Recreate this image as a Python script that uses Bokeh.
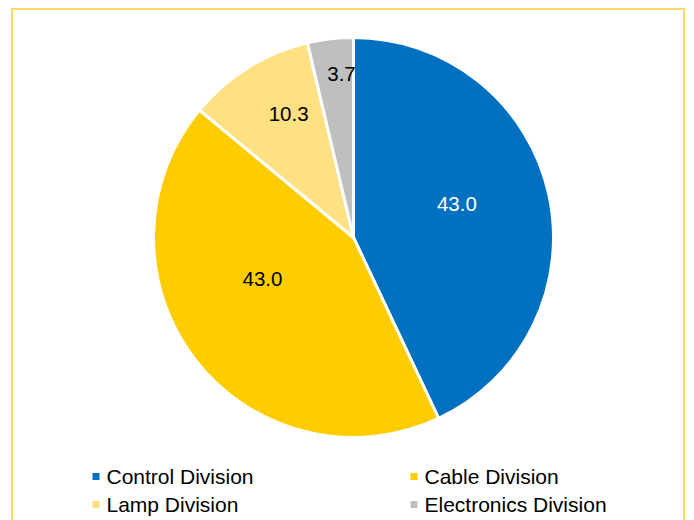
import math
from bokeh.plotting import figure
from bokeh.models import Range1d, ColumnDataSource
from bokeh.core.properties import value
from bokeh.embed import file_html
from bokeh.resources import INLINE

# ---- data ----
categories = ["Control Division", "Cable Division", "Lamp Division", "Electronics Division"]
shares = [43.0, 43.0, 10.3, 3.7]
colors = ["#0070C0", "#FFCC00", "#FFE083", "#BFBFBF"]
label_colors = ["white", "black", "black", "black"]

# ---- layout (pixel coordinates, y measured downward -> data y = -page_y) ----
W, H = 694, 520
cx, cy, R = 353, 237, 200
label_rfrac = [0.54, 0.50, 0.70, 0.82]
label_dx = [-2, -12, 9, 7]
label_dy = [-10, -20, -5, -1]

p = figure(width=W, height=H, output_backend="svg", toolbar_location=None,
           x_range=Range1d(0, W), y_range=Range1d(-H, 0),
           min_border=0, outline_line_color=None)
p.axis.visible = False
p.grid.visible = False
p.background_fill_color = "white"
p.border_fill_color = "white"

total = sum(shares)
starts, ends, lx, ly = [], [], [], []
cum = 0.0
for i, s in enumerate(shares):
    a0 = math.pi / 2 - 2 * math.pi * cum / total
    cum += s
    a1 = math.pi / 2 - 2 * math.pi * cum / total
    starts.append(a0)
    ends.append(a1)
    mid = (a0 + a1) / 2
    r = R * label_rfrac[i]
    lx.append(cx + r * math.cos(mid) + label_dx[i])
    ly.append(-cy + r * math.sin(mid) - label_dy[i])

src = ColumnDataSource(dict(cat=categories, val=shares, color=colors,
                            start=starts, end=ends,
                            lx=lx, ly=ly, lbl=[f"{v:.1f}" for v in shares],
                            lcol=label_colors))

p.wedge(x=cx, y=-cy, radius=R, radius_units="screen", start_angle="start", end_angle="end",
        direction="clock", fill_color="color", line_color="white", line_width=3, source=src)

p.text(x="lx", y="ly", text="lbl", text_color="lcol", text_align="center",
       text_baseline="middle", text_font=value("Liberation Sans"),
       text_font_size="20.5px", source=src)

# legend (two columns)
leg_x = [95.5, 413.5, 95.5, 413.5]
leg_y = [-476, -476, -504, -504]
lsrc = ColumnDataSource(dict(x=leg_x, y=leg_y, tx=[v + 10.5 for v in leg_x],
                             cat=categories, color=colors))
p.scatter(x="x", y="y", marker="square", size=7, fill_color="color",
          line_color=None, source=lsrc)
p.text(x="tx", y="y", text="cat", text_color="black", text_align="left",
       text_baseline="middle", text_font=value("Liberation Sans"),
       text_font_size="21px", source=lsrc)

# chart frame border (yellow)
p.line(x=[11.5, 11.5, 683.5, 683.5], y=[-540, -8.5, -8.5, -540],
       line_color="#FFD966", line_width=2)

open("out.html", "w").write(file_html(p, INLINE))
